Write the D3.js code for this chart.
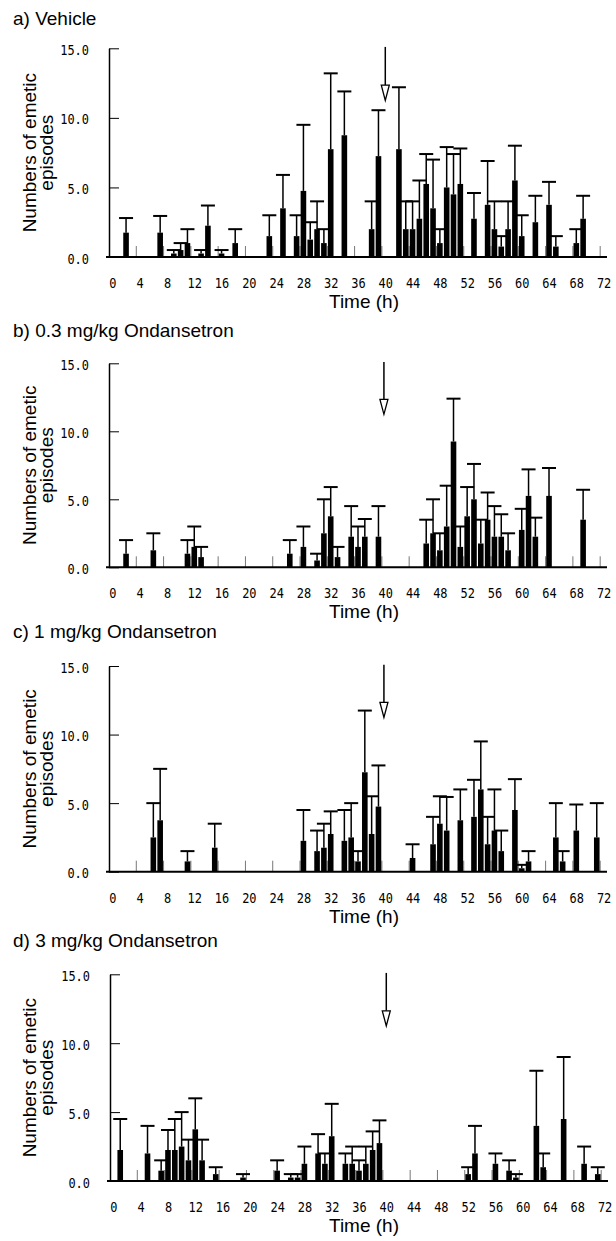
<!DOCTYPE html>
<html>
<head>
<meta charset="utf-8">
<script src="https://cdn.jsdelivr.net/npm/d3@7"></script>
<style>
body { margin: 0; background: #fff; }
.lbl { font-family: "Liberation Sans", Arial, sans-serif; font-size: 19px; fill: #000; }
</style>
</head>
<body>
<svg id="chart" width="616" height="1241"></svg>
<script>
// Data: hour bins with a mean and an upper SEM, one set per group
var vehicleHours = [2, 7, 9, 10, 11, 13, 14, 16, 18, 23, 25, 27, 28, 29, 30, 31, 32, 34, 38, 39, 42, 43, 44, 45, 46, 47, 48, 49, 50, 51, 53, 55, 56, 57, 58, 59, 60, 62, 64, 65, 68, 69];
var vehicleMean  = [1.75, 1.75, 0.25, 0.5, 1.0, 0.25, 2.25, 0.25, 1.0, 1.5, 3.5, 1.5, 4.75, 1.25, 2.0, 1.0, 7.75, 8.75, 2.0, 7.25, 7.75, 2.0, 2.0, 2.75, 5.25, 3.5, 1.0, 5.0, 4.5, 5.25, 2.75, 3.75, 2.0, 0.75, 2.0, 5.5, 1.5, 2.5, 3.75, 0.75, 1.0, 2.75];
var vehicleSem   = [1.05, 1.2, 0.25, 0.5, 1.0, 0.25, 1.45, 0.25, 1.0, 1.5, 2.4, 1.5, 4.75, 1.25, 2.0, 1.0, 5.45, 3.15, 2.0, 3.3, 4.45, 2.0, 2.0, 2.75, 2.15, 3.5, 1.0, 2.9, 2.9, 2.55, 1.85, 3.15, 2.0, 0.75, 2.0, 2.5, 1.5, 1.9, 1.65, 0.75, 1.0, 1.65];

var ond03Hours = [2, 6, 11, 12, 13, 26, 28, 30, 31, 32, 33, 35, 36, 37, 39, 46, 47, 48, 49, 50, 51, 52, 53, 54, 55, 56, 57, 58, 60, 61, 62, 64, 69];
var ond03Mean  = [1.0, 1.25, 1.0, 1.5, 0.75, 1.0, 1.5, 0.5, 2.5, 3.75, 0.75, 2.25, 1.5, 2.25, 2.25, 1.75, 2.5, 1.25, 3.0, 9.25, 1.5, 3.75, 5.0, 1.75, 3.5, 2.25, 2.25, 1.25, 2.75, 5.25, 2.25, 5.25, 3.5];
var ond03Sem   = [1.0, 1.25, 1.0, 1.5, 0.75, 1.0, 1.5, 0.5, 2.5, 2.15, 0.75, 2.25, 1.5, 1.3, 2.25, 1.75, 2.5, 1.25, 3.0, 3.15, 1.5, 2.15, 2.6, 1.75, 2.0, 2.25, 1.65, 1.25, 1.55, 1.95, 1.4, 2.05, 2.2];

var ond1Hours = [6, 7, 11, 15, 28, 30, 31, 32, 34, 35, 36, 37, 38, 39, 44, 47, 48, 49, 51, 53, 54, 55, 56, 57, 59, 60, 61, 65, 66, 68, 71];
var ond1Mean  = [2.5, 3.75, 0.75, 1.75, 2.25, 1.5, 1.75, 2.75, 2.25, 2.5, 0.75, 7.25, 2.75, 4.75, 1.0, 2.0, 3.5, 3.0, 3.75, 4.0, 6.0, 2.0, 3.0, 1.5, 4.5, 0.25, 0.75, 2.5, 0.75, 3.0, 2.5];
var ond1Sem   = [2.5, 3.75, 0.75, 1.75, 2.25, 1.5, 1.75, 1.65, 2.25, 2.5, 0.75, 4.5, 2.75, 3.0, 1.0, 2.0, 2.0, 2.45, 2.25, 2.7, 3.5, 2.0, 3.0, 1.5, 2.25, 0.25, 0.75, 2.5, 0.75, 1.9, 2.5];

var ond3Hours = [1, 5, 7, 8, 9, 10, 11, 12, 13, 15, 19, 24, 26, 27, 28, 30, 31, 32, 34, 35, 36, 37, 38, 39, 52, 53, 56, 58, 59, 62, 63, 66, 69, 71];
var ond3Mean  = [2.25, 2.0, 0.75, 2.25, 2.25, 2.5, 1.5, 3.75, 1.5, 0.5, 0.25, 0.75, 0.25, 0.25, 1.25, 2.0, 1.25, 3.25, 1.25, 1.25, 0.75, 1.25, 2.25, 2.75, 0.5, 2.0, 1.25, 0.75, 0.25, 4.0, 1.0, 4.5, 1.25, 0.5];
var ond3Sem   = [2.25, 2.0, 0.75, 1.45, 2.25, 2.5, 1.5, 2.25, 1.5, 0.5, 0.25, 0.75, 0.25, 0.25, 1.25, 1.4, 0.75, 2.35, 0.75, 1.25, 0.75, 1.25, 1.35, 1.65, 0.5, 2.0, 0.75, 0.75, 0.25, 4.0, 1.0, 4.5, 1.25, 0.5];

var panelTitles = ['a) Vehicle', 'b) 0.3 mg/kg Ondansetron', 'c) 1 mg/kg Ondansetron', 'd) 3 mg/kg Ondansetron'];
var xTickLabels = [0, 4, 8, 12, 16, 20, 24, 28, 32, 36, 40, 44, 48, 52, 56, 60, 64, 68, 72];
var yTicks = [0, 5, 10, 15];
var arrowHour = [40, 39.8, 39.8, 40];   // dosing arrow
var arrowTop = 15.1, arrowHead = 12.35, arrowTip = 11.25;

var groups = [
  { hours: vehicleHours, mean: vehicleMean, sem: vehicleSem },
  { hours: ond03Hours, mean: ond03Mean, sem: ond03Sem },
  { hours: ond1Hours, mean: ond1Mean, sem: ond1Sem },
  { hours: ond3Hours, mean: ond3Mean, sem: ond3Sem }
];

// Layout of each panel (pixels)
var layout = [
  { left: 109, top: 48.3, bottom: 257, titleY: 25 },
  { left: 109, top: 363.3, bottom: 567.3, titleY: 337 },
  { left: 109, top: 666, bottom: 871.7, titleY: 638 },
  { left: 110, top: 974.3, bottom: 1181, titleY: 947 }
];
var plotW = 498, barW = 5.6, capW = 14;
var numFont = '"DejaVu Sans Mono", "Liberation Mono", monospace';
var charW = 7.2;   // half-width digit look of the original

// squeeze the numeric labels into narrow cells
function numStyle(sel) {
  sel.attr('font-family', numFont)
    .attr('font-size', 14.5)
    .attr('lengthAdjust', 'spacingAndGlyphs')
    .attr('textLength', function() { return this.textContent.length * charW; });
}

var svg = d3.select('#chart');

groups.forEach(function(grp, i) {
  var L = layout[i],
      x = d3.scaleLinear().domain([-0.5, 72.5]).range([L.left, L.left + plotW]),
      y = d3.scaleLinear().domain([0, 15]).range([L.bottom, L.top]),
      g = svg.append('g'),
      rows = d3.zip(grp.hours, grp.mean, grp.sem);

  g.append('text').attr('class', 'lbl')
    .attr('x', 13).attr('y', L.titleY)
    .text(panelTitles[i]);

  // small tick marks between categories, every 4 h
  g.append('g').selectAll('line')
    .data(xTickLabels.slice(1))
    .enter().append('line')
    .attr('x1', function(d) { return x(d - 0.5); })
    .attr('x2', function(d) { return x(d - 0.5); })
    .attr('y1', y(0)).attr('y2', y(0) - 11)
    .attr('stroke', '#777').attr('stroke-width', 1);

  // error bars (upper only)
  var eb = g.append('g').selectAll('g')
    .data(rows)
    .enter().append('g');
  eb.append('line')
    .attr('x1', function(d) { return x(d[0]); })
    .attr('x2', function(d) { return x(d[0]); })
    .attr('y1', function(d) { return y(d[1]); })
    .attr('y2', function(d) { return y(d[1] + d[2]); })
    .attr('stroke', '#000').attr('stroke-width', 1.5);
  eb.append('line')
    .attr('x1', function(d) { return x(d[0]) - capW / 2; })
    .attr('x2', function(d) { return x(d[0]) + capW / 2; })
    .attr('y1', function(d) { return y(d[1] + d[2]); })
    .attr('y2', function(d) { return y(d[1] + d[2]); })
    .attr('stroke', '#000').attr('stroke-width', 2);

  // bars
  g.append('g').selectAll('rect')
    .data(rows)
    .enter().append('rect')
    .attr('x', function(d) { return x(d[0]) - barW / 2; })
    .attr('width', barW)
    .attr('y', function(d) { return y(d[1]); })
    .attr('height', function(d) { return y(0) - y(d[1]); })
    .attr('fill', '#000');

  // y axis
  var yAxis = d3.axisLeft(y)
    .tickValues(yTicks)
    .tickFormat(d3.format('.1f'))
    .tickSizeInner(-10)
    .tickSizeOuter(0)
    .tickPadding(20);
  var ya = g.append('g').attr('transform', 'translate(' + L.left + ',0)').call(yAxis);
  ya.select('.domain').attr('stroke-width', 1.5);
  ya.selectAll('.tick line').attr('stroke-width', 1);
  ya.selectAll('text').call(numStyle).attr('dy', '0.42em');

  // x axis
  var xAxis = d3.axisBottom(x)
    .tickValues(xTickLabels)
    .tickSize(0)
    .tickPadding(21);
  var xa = g.append('g').attr('transform', 'translate(0,' + y(0) + ')').call(xAxis);
  xa.select('.domain').remove();
  xa.selectAll('text').call(numStyle).attr('dy', '0.7em');
  g.append('line')
    .attr('x1', L.left - 3).attr('x2', x(72.5))
    .attr('y1', y(0)).attr('y2', y(0))
    .attr('stroke', '#000').attr('stroke-width', 2);

  g.append('text').attr('class', 'lbl')
    .attr('x', 364).attr('y', y(0) + 51)
    .attr('text-anchor', 'middle')
    .text('Time (h)');

  // y label, two lines
  var yl = g.append('text').attr('class', 'lbl')
    .attr('text-anchor', 'middle')
    .attr('transform', 'translate(36,' + (L.top + L.bottom) / 2 + ') rotate(-90)');
  yl.append('tspan').attr('x', 0).attr('y', 0).text('Numbers of emetic');
  yl.append('tspan').attr('x', 0).attr('y', 17).text('episodes');

  // dosing arrow
  var ax = x(arrowHour[i]);
  g.append('line')
    .attr('x1', ax).attr('x2', ax)
    .attr('y1', y(arrowTop)).attr('y2', y(arrowHead))
    .attr('stroke', '#000').attr('stroke-width', 1.5);
  g.append('path')
    .attr('d', 'M' + (ax - 4) + ',' + y(arrowHead) + 'L' + (ax + 4) + ',' + y(arrowHead) + 'L' + ax + ',' + y(arrowTip) + 'Z')
    .attr('fill', '#fff').attr('stroke', '#000').attr('stroke-width', 1.3);
});
</script>
</body>
</html>
